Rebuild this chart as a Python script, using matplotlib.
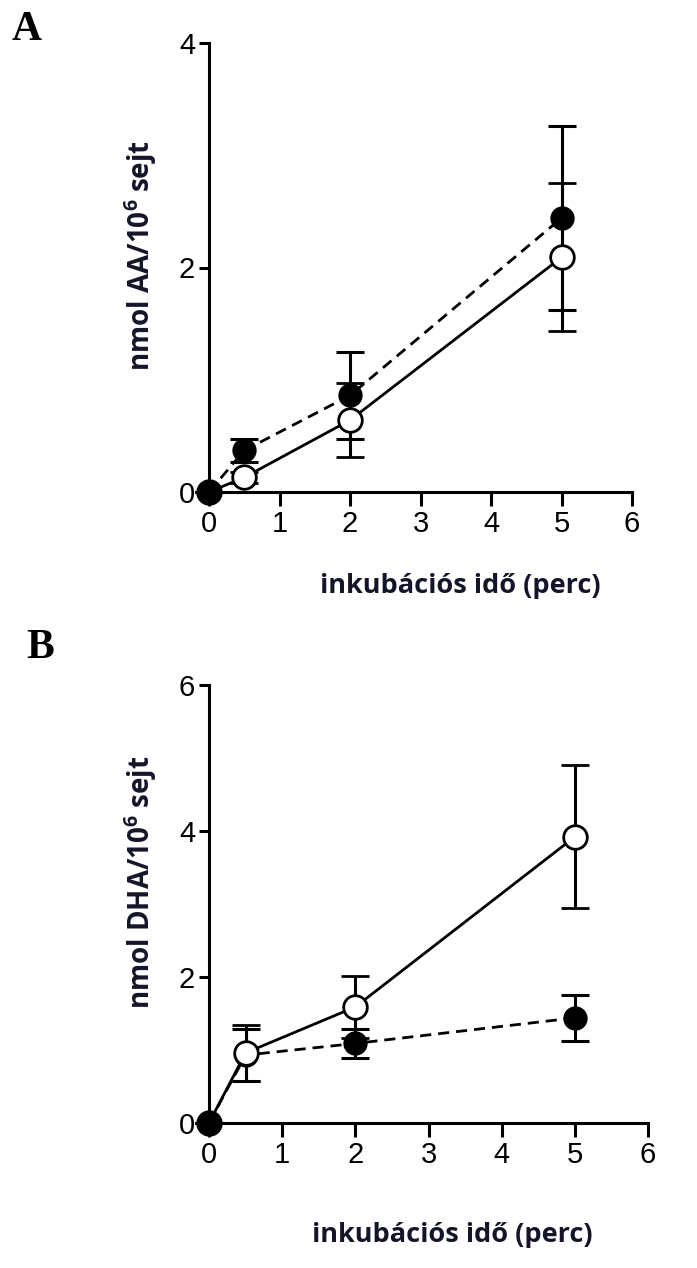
import matplotlib.pyplot as plt
import numpy as np

plt.rcParams['font.family'] = ['Liberation Sans', 'DejaVu Sans']
plt.rcParams['mathtext.fontset'] = 'custom'
plt.rcParams['mathtext.bf'] = 'Open Sans:bold'
plt.rcParams['mathtext.rm'] = 'Open Sans'

# time points (perc)
t = [0, 0.5, 2, 5]

# panel A - AA
aa_open = [0, 0.13, 0.64, 2.09]
aa_open_err = [0, 0.05, 0.33, 0.66]
aa_fill = [0, 0.37, 0.86, 2.44]
aa_fill_err = [0, 0.10, 0.39, 0.82]

# panel B - DHA
dha_open = [0, 0.96, 1.59, 3.92]
dha_open_err = [0, 0.38, 0.42, 0.98]
dha_fill = [0, 0.93, 1.09, 1.44]
dha_fill_err = [0, 0.36, 0.20, 0.32]

xlab = 'inkubációs idő (perc)'
ylab_a = r'nmol AA/10$^{\mathbf{6}}$ sejt'
ylab_b = r'nmol DHA/10$^{\mathbf{6}}$ sejt'

fig = plt.figure(figsize=(6.97, 12.68), dpi=100)
W, H = 697, 1268
axA = fig.add_axes([209/W, 1-492/H, (632-209)/W, (492-43)/H])
axB = fig.add_axes([209/W, 1-1123/H, (648-209)/W, (1123-685)/H])

txtcol = '#15152a'


def panel(ax, yo, yoe, yf, yfe, ymax, yticks, ylab, xl_pos, yl_pos):
    ax.errorbar(t, yf, yerr=yfe, color='black', ls=(0, (4, 2.5)), lw=2,
                marker='o', ms=16.5, mfc='black', mec='black',
                capsize=10, capthick=2.2, elinewidth=2.2, clip_on=False, zorder=3)
    ax.errorbar(t, yo, yerr=yoe, color='black', ls='-', lw=2,
                marker='o', ms=17, mfc='white', mec='black', mew=2,
                capsize=10, capthick=2.2, elinewidth=2.2, clip_on=False, zorder=4)
    # origin point drawn filled on top
    ax.plot(t[0], yf[0], 'o', ms=17, color='black', clip_on=False, zorder=5)
    ax.set_xlim(0, 6)
    ax.set_ylim(0, ymax)
    ax.set_xticks(range(7))
    ax.set_yticks(yticks)
    for s in ['top', 'right']:
        ax.spines[s].set_visible(False)
    for s in ['left', 'bottom']:
        ax.spines[s].set_linewidth(2.2)
    ax.tick_params(axis='x', width=2.2, length=10, labelsize=21, pad=3)
    ax.tick_params(axis='y', width=2.2, length=7, labelsize=21, pad=3)
    ax.set_xlabel(xlab, fontsize=19.5, fontweight='bold', family='Open Sans',
                  color=txtcol)
    ax.set_ylabel(ylab, fontsize=20, fontweight='bold', family='Open Sans',
                  color=txtcol)
    ax.xaxis.set_label_coords(*xl_pos)
    ax.yaxis.set_label_coords(*yl_pos)


panel(axA, aa_open, aa_open_err, aa_fill, aa_fill_err, 4, [0, 2, 4], ylab_a,
      (0.595, -0.18), (-0.118, 0.526))
panel(axB, dha_open, dha_open_err, dha_fill, dha_fill_err, 6, [0, 2, 4, 6], ylab_b,
      (0.555, -0.226), (-0.114, 0.55))

fig.text(12/W, 1-40/H, 'A', fontsize=30, fontweight='bold', family='Liberation Serif')
fig.text(26/W, 1-658/H, 'B', fontsize=30, fontweight='bold', family='Liberation Serif')

fig.savefig('out.png', dpi=100)
